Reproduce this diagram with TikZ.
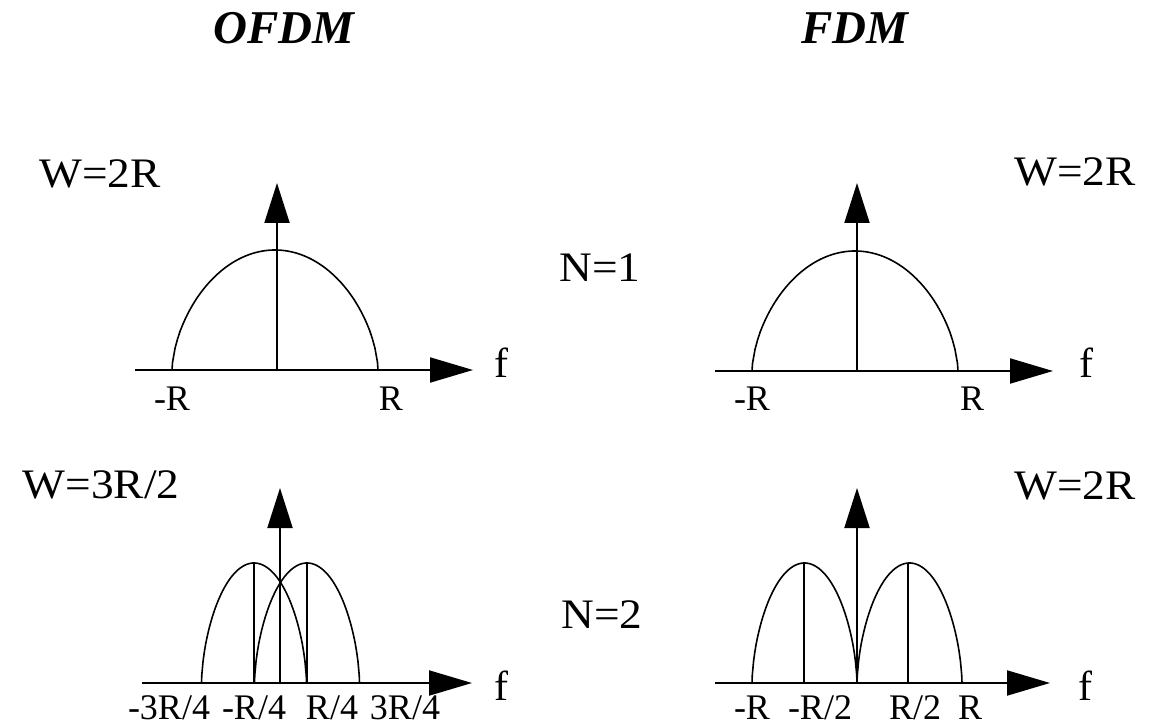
\documentclass[tikz,border=0pt]{standalone}
\usepackage{fontspec}
\setmainfont{Liberation Serif}
\newfontfamily\lblfont[FakeStretch=1.08]{Liberation Serif}
\usetikzlibrary{arrows.meta}
\newcommand\mylobe[4]{%
  \draw[lobe] (#1-#2,#3) -- plot[domain=-0.995:0.995,samples=81]
    ({#1+#2*\x},{#3-#4*pow(1-\x*\x,0.6)}) -- (#1+#2,#3);}
\begin{document}
\begin{tikzpicture}[x=1pt,y=-1pt,
  axis/.style={line width=2pt},
  harr/.style={axis,-{Triangle[length=43pt,width=25pt]}},
  varr/.style={axis,-{Triangle[length=40pt,width=25pt]}},
  lobe/.style={line width=1.6pt},
  stem/.style={line width=1.8pt},
  ttl/.style={font=\fontsize{47}{47}\selectfont\bfseries\itshape, inner sep=0pt},
  biglbl/.style={font=\lblfont\fontsize{42}{42}\selectfont, anchor=base, inner sep=0pt},
  ticklbl/.style={font=\fontsize{36}{36}\selectfont, anchor=base, inner sep=0pt},
  flbl/.style={font=\fontsize{42}{42}\selectfont, anchor=base, inner sep=0pt}]
\useasboundingbox (0,0) rectangle (1151,727);

% titles
\node[ttl] (tofdm) at (284,28) {OFDM};
\node[ttl] (tfdm) at (855,28) {FDM};

% labels
\node[biglbl] (w1) at (100,188) {W=2R};
\node[biglbl] (w2) at (1075,186) {W=2R};
\node[biglbl] (n1) at (600,282) {N=1};
\node[biglbl] (w3) at (101,498) {W=3R/2};
\node[biglbl] (w4) at (1075,499) {W=2R};
\node[biglbl] (n2) at (602,628) {N=2};

% ---------- top left ----------
\coordinate (tlx0) at (135,370); \coordinate (tlx1) at (473,370);
\coordinate (tly0) at (277,370); \coordinate (tly1) at (277,183);
\mylobe{275}{103}{370}{120}
\draw[harr] (tlx0) -- (tlx1);
\draw[varr] (tly0) -- (tly1);
\node[flbl] (f1) at (501,377) {f};
\node[ticklbl] (tl1) at (172,410) {-R};
\node[ticklbl] (tl2) at (391,410) {R};

% ---------- top right ----------
\coordinate (trx0) at (715,371); \coordinate (trx1) at (1053,371);
\coordinate (try0) at (857,371); \coordinate (try1) at (857,183);
\mylobe{855}{103}{371}{120}
\draw[harr] (trx0) -- (trx1);
\draw[varr] (try0) -- (try1);
\node[flbl] (f2) at (1086,377) {f};
\node[ticklbl] (tr1) at (752,410) {-R};
\node[ticklbl] (tr2) at (972,410) {R};

% ---------- bottom left ----------
\coordinate (blx0) at (142,683); \coordinate (blx1) at (472,683);
\coordinate (bly0) at (280,683); \coordinate (bly1) at (280,488);
\mylobe{254}{52.5}{683}{120}
\mylobe{307}{52.5}{683}{120}
\draw[stem] (254,683) -- (254,563);
\draw[stem] (307,683) -- (307,563);
\draw[harr] (blx0) -- (blx1);
\draw[varr] (bly0) -- (bly1);
\node[flbl] (f3) at (501,700) {f};
\node[ticklbl] (bl1) at (169,719) {-3R/4};
\node[ticklbl] (bl2) at (254,719) {-R/4};
\node[ticklbl] (bl3) at (332,719) {R/4};
\node[ticklbl] (bl4) at (405,719) {3R/4};

% ---------- bottom right ----------
\coordinate (brx0) at (715,683); \coordinate (brx1) at (1050,683);
\coordinate (bry0) at (857,683); \coordinate (bry1) at (857,488);
\mylobe{804.5}{52.5}{683}{120}
\mylobe{909.5}{52.5}{683}{120}
\draw[stem] (804,683) -- (804,563);
\draw[stem] (908,683) -- (908,563);
\draw[harr] (brx0) -- (brx1);
\draw[varr] (bry0) -- (bry1);
\node[flbl] (f4) at (1085,700) {f};
\node[ticklbl] (br1) at (752,719) {-R};
\node[ticklbl] (br2) at (820,719) {-R/2};
\node[ticklbl] (br3) at (915,719) {R/2};
\node[ticklbl] (br4) at (970,719) {R};
\end{tikzpicture}
\end{document}
